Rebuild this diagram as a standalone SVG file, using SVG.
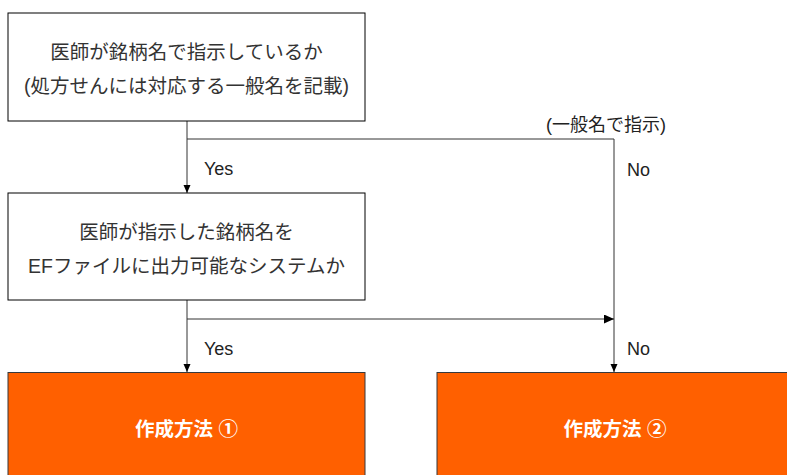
<svg xmlns="http://www.w3.org/2000/svg" width="787" height="475" viewBox="0 0 787 475">
  <style>
    .box { fill: #ffffff; stroke: #000000; stroke-width: 1; }
    .res { fill: #ff6000; stroke: #36393d; stroke-width: 1; }
    .t { font-family: "Liberation Sans", "Noto Sans CJK JP", sans-serif; font-size: 19.5px; fill: #333333; text-anchor: middle; }
    .rt { font-family: "Liberation Sans", "Noto Sans CJK JP", sans-serif; font-size: 19.5px; fill: #ffffff; font-weight: bold; text-anchor: middle; }
    .lbl { font-family: "Liberation Sans", "Noto Sans CJK JP", sans-serif; font-size: 18px; fill: #222222; }
    .edge { fill: none; stroke: #333333; stroke-width: 1; }
  </style>
  <defs>
    <marker id="arr" markerUnits="userSpaceOnUse" markerWidth="8" markerHeight="8" refX="8" refY="3.5" orient="auto">
      <path d="M0,0 L8,3.5 L0,7 Z" fill="#000000"/>
    </marker>
    <marker id="arrL" markerUnits="userSpaceOnUse" markerWidth="11" markerHeight="10" refX="10" refY="4.5" orient="auto">
      <path d="M0,0 L10,4.5 L0,9 Z" fill="#000000"/>
    </marker>
  </defs>

  <g id="connectors">
    <path class="edge" d="M187,121 L187,193" marker-end="url(#arr)"/>
    <path class="edge" d="M187,139 L614,139 L614,372" marker-end="url(#arr)"/>
    <path class="edge" d="M187,300 L187,372" marker-end="url(#arr)"/>
    <path class="edge" d="M187,319 L614,319" marker-end="url(#arrL)"/>
    <text class="lbl" x="204" y="175">Yes</text>
    <text class="lbl" x="627" y="175.5">No</text>
    <text class="lbl" x="606" y="131" text-anchor="middle" font-size="19px">(一般名で指示)</text>
    <text class="lbl" x="204" y="355">Yes</text>
    <text class="lbl" x="627" y="355">No</text>
  </g>

  <g id="q1">
    <rect class="box" x="8" y="13" width="357" height="108"/>
    <text class="t" x="186.5" y="59">医師が銘柄名で指示しているか</text>
    <text class="t" x="186.5" y="93">(処方せんには対応する一般名を記載)</text>
  </g>

  <g id="q2">
    <rect class="box" x="8" y="193" width="357" height="107"/>
    <text class="t" x="186.5" y="239">医師が指示した銘柄名を</text>
    <text class="t" x="186.5" y="273">EFファイルに出力可能なシステムか</text>
  </g>

  <g id="method1">
    <rect class="res" x="8" y="372.5" width="357" height="110"/>
    <text class="rt" x="186.5" y="436">作成方法 ①</text>
  </g>

  <g id="method2">
    <rect class="res" x="437" y="372.5" width="357" height="110"/>
    <text class="rt" x="615" y="436">作成方法 ②</text>
  </g>
</svg>
